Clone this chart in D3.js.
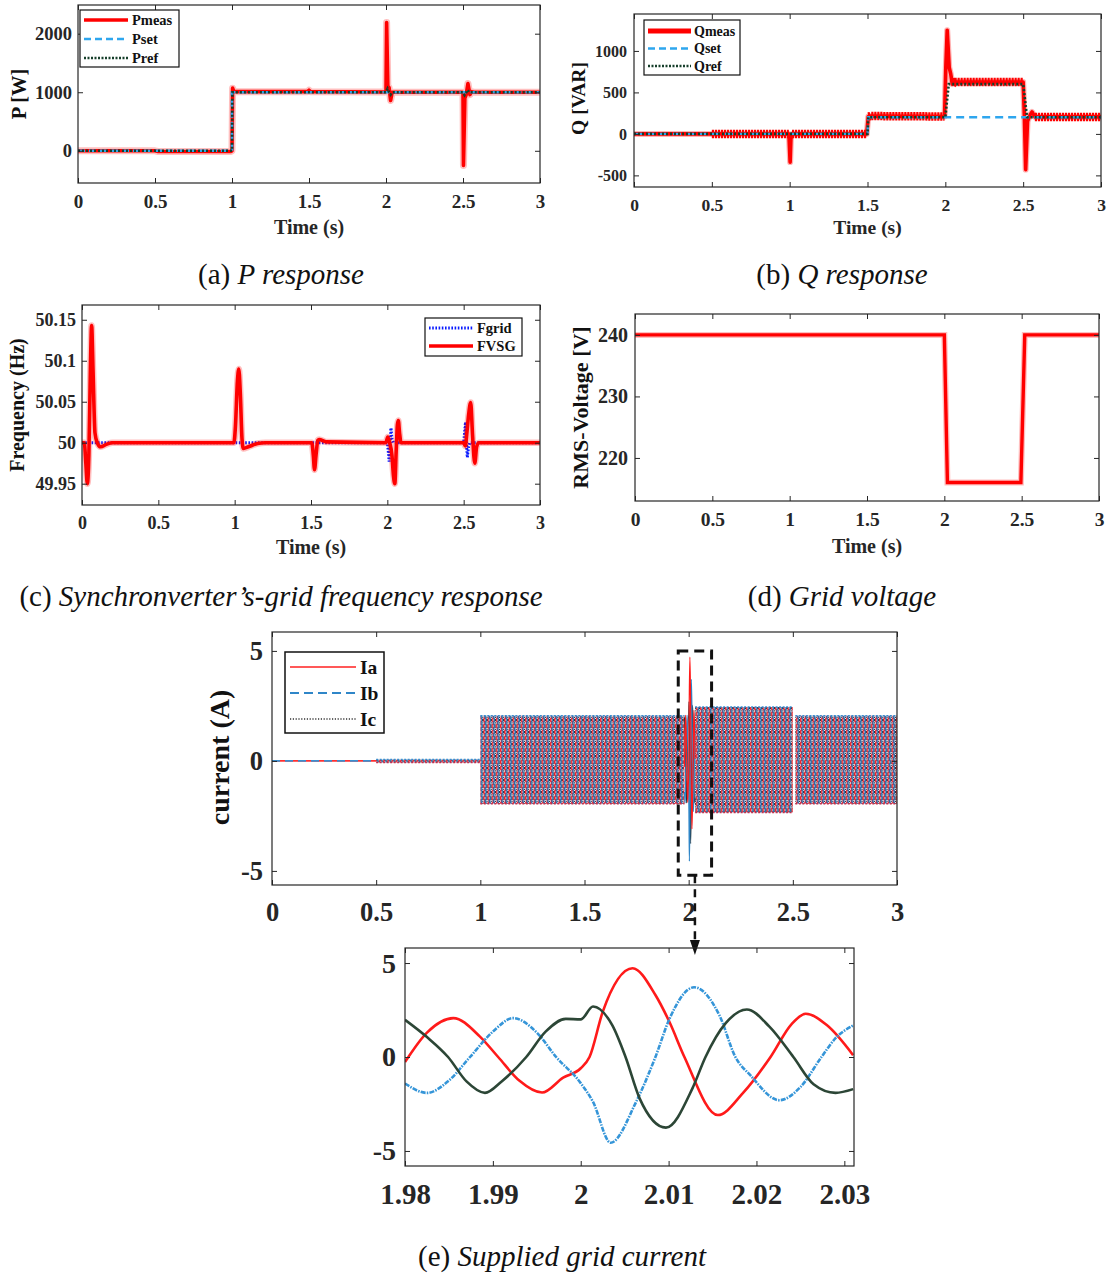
<!DOCTYPE html>
<html>
<head>
<meta charset="utf-8">
<script src="https://cdn.jsdelivr.net/npm/d3@7"></script>
<style>
  html, body { margin: 0; padding: 0; background: #fff; }
  svg { display: block; }
  text { font-family: "Liberation Serif", "Times New Roman", serif; }
</style>
</head>
<body>
<svg id="fig" width="1112" height="1274"></svg>
<script>
// ---------------- shared ticks ----------------
const timeTicks = [0, 0.5, 1, 1.5, 2, 2.5, 3];
const timeTickLabels = ["0", "0.5", "1", "1.5", "2", "2.5", "3"];

// ---------------- (a) active power ----------------
const pTicks = [0, 1000, 2000];
const pTickLabels = ["0", "1000", "2000"];
const pmeasT = [0, 0.5, 0.52, 0.99, 1.0, 1.004, 1.012, 1.03, 1.49, 1.5, 1.51, 1.99, 2.0, 2.004, 2.012, 2.02, 2.03, 2.04, 2.06, 2.495, 2.5, 2.503, 2.512, 2.52, 2.532, 2.545, 2.555, 2.57, 3.0];
const pmeasV = [0, 0, -12, -12, 0, 1070, 1010, 1010, 1010, 1035, 1010, 1005, 1010, 2190, 1100, 1080, 860, 1000, 1000, 1000, 990, -250, 900, 950, 1150, 960, 1010, 1000, 1000];
const psetT = [0, 1.0, 1.0, 3.0];
const psetV = [0, 0, 1000, 1000];
const prefT = [0, 1.0, 1.003, 2.0, 2.01, 2.02, 2.03, 2.04, 2.5, 2.51, 2.53, 2.54, 3.0];
const prefV = [0, 0, 1000, 1000, 1060, 1000, 960, 1000, 1000, 950, 1040, 1000, 1000];

// ---------------- (b) reactive power ----------------
const qTicks = [-500, 0, 500, 1000];
const qTickLabels = ["-500", "0", "500", "1000"];
const qmeasT = [0, 0.5, 0.995, 1.003, 1.008, 1.015, 1.495, 1.505, 1.52, 1.995, 2.003, 2.012, 2.025, 2.035, 2.045, 2.06, 2.5, 2.508, 2.516, 2.528, 2.545, 2.557, 2.575, 3.0];
const qmeasV = [0, 0, 0, -340, -60, 0, 0, 210, 215, 210, 800, 1250, 800, 720, 600, 625, 625, 200, -430, 150, 230, 265, 205, 205];
// intervals where the measured Q carries switching ripple
const rippleStart = [0.5, 1.015, 1.505, 2.045, 2.575];
const rippleEnd = [0.995, 1.495, 1.995, 2.5, 3.0];
const qsetT = [0, 1.5, 1.505, 3.0];
const qsetV = [0, 0, 200, 200];
const qrefT = [0, 1.5, 1.505, 2.0, 2.022, 2.5, 2.525, 3.0];
const qrefV = [0, 0, 200, 200, 600, 600, 200, 200];

// ---------------- (c) frequency ----------------
const fTicks = [49.95, 50, 50.05, 50.1, 50.15];
const fTickLabels = ["49.95", "50", "50.05", "50.1", "50.15"];
const fvsgT = [0, 0.015, 0.025, 0.035, 0.045, 0.055, 0.063, 0.072, 0.085, 0.1, 0.122, 0.16, 0.2, 0.995, 1.005, 1.018, 1.027, 1.037, 1.048, 1.057, 1.09, 1.15, 1.2, 1.505, 1.515, 1.523, 1.533, 1.545, 1.553, 1.6, 1.99, 2.003, 2.015, 2.03, 2.04, 2.049, 2.058, 2.066, 2.072, 2.08, 2.09, 2.1, 2.5, 2.511, 2.52, 2.533, 2.546, 2.558, 2.573, 2.585, 2.6, 3.0];
const fvsgV = [50, 50, 49.975, 49.95, 49.985, 50.09, 50.143, 50.09, 50.012, 50.0, 49.995, 49.998, 50, 50, 50.02, 50.075, 50.09, 50.06, 50.005, 49.993, 49.995, 49.999, 50, 50, 49.985, 49.967, 49.985, 50.003, 50.004, 50.001, 50, 50.007, 50.0, 49.985, 49.96, 49.95, 49.99, 50.022, 50.027, 50.012, 50.0, 50, 50, 49.996, 50.01, 50.035, 50.049, 50.01, 49.975, 49.995, 50, 50];
const fgridT = [0, 2.0, 2.006, 2.012, 2.018, 2.024, 2.03, 2.04, 2.5, 2.506, 2.512, 2.518, 2.524, 2.532, 2.54, 3.0];
const fgridV = [50, 50, 49.99, 49.977, 50.0, 50.018, 50.005, 50, 50, 50.012, 50.025, 50.0, 49.982, 49.995, 50, 50];

// ---------------- (d) grid voltage ----------------
const vTicks = [220, 230, 240];
const vTickLabels = ["220", "230", "240"];
const vgridT = [0, 2.0, 2.02, 2.495, 2.52, 3.0];
const vgridV = [240, 240, 216, 216, 240, 240];

// ---------------- (e) grid current ----------------
const iTicks = [-5, 0, 5];
const iTickLabels = ["-5", "0", "5"];
// envelope of the three-phase current band (steady-state segments)
const bandStart = [0.5, 1.0, 2.031, 2.512];
const bandEnd = [1.0, 1.98, 2.5, 3.0];
const bandHigh = [0.07, 2.05, 2.45, 2.05];
const bandLow = [-0.07, -1.95, -2.35, -1.95];
// detailed phase currents around the 2 s voltage sag
const zoomTicks = [1.98, 1.99, 2.0, 2.01, 2.02, 2.03];
const zoomTickLabels = ["1.98", "1.99", "2", "2.01", "2.02", "2.03"];
const iaT = [1.98, 1.9825, 1.9855, 1.9885, 1.9906, 1.993, 1.9956, 1.998, 2.0, 2.001, 2.0025, 2.0059, 2.0085, 2.0101, 2.0118, 2.0156, 2.0185, 2.0216, 2.024, 2.0256, 2.028, 2.031];
const iaV = [-0.27, 1.3, 2.07, 1.1, 0, -1.25, -1.89, -1.1, -0.6, 0.0, 2.4, 4.72, 3.3, 1.86, 0, -3.09, -1.9, 0, 1.75, 2.3, 1.7, 0.1];
const ibT = [1.98, 1.9825, 1.985, 1.9874, 1.99, 1.9923, 1.995, 1.9972, 1.9999, 2.0014, 2.0034, 2.0063, 2.0085, 2.0101, 2.0129, 2.0158, 2.0176, 2.0193, 2.0226, 2.025, 2.0274, 2.029, 2.031];
const ibV = [-1.41, -1.91, -1.25, 0, 1.35, 2.07, 1.3, 0, -1.33, -2.39, -4.56, -2.39, 0, 2.03, 3.71, 2.2, 0, -0.97, -2.3, -1.6, 0, 1.0, 1.68];
const icT = [1.98, 1.9825, 1.9849, 1.987, 1.9891, 1.991, 1.9938, 1.996, 1.9983, 2.0, 2.0014, 2.0036, 2.0051, 2.0067, 2.0097, 2.0127, 2.0142, 2.0165, 2.0189, 2.0215, 2.0242, 2.0265, 2.029, 2.031];
const icV = [1.98, 1.06, 0, -1.3, -1.91, -1.3, 0, 1.35, 2.03, 2.0, 2.69, 1.68, 0, -2.2, -3.76, -1.68, 0, 1.8, 2.53, 1.6, 0, -1.45, -1.91, -1.71];

// ---------------- drawing helpers ----------------
const svg = d3.select("#fig");
const defs = svg.append("defs");
const INK = "#262626";
const RED = "#ff0000";
const LIGHTBLUE = "#2ea6ee";
const DARKGREEN = "#163f2a";

const pairs = (T, V) => T.map((t, i) => [t, V[i]]);
let clipId = 0;

function panel(cfg) {
  const x = d3.scaleLinear().domain(cfg.xDomain).range([cfg.left, cfg.right]);
  const y = d3.scaleLinear().domain(cfg.yDomain).range([cfg.bottom, cfg.top]);
  const g = svg.append("g");
  const id = "clip" + (clipId++);
  defs.append("clipPath").attr("id", id).append("rect")
    .attr("x", cfg.left).attr("y", cfg.top)
    .attr("width", cfg.right - cfg.left).attr("height", cfg.bottom - cfg.top);
  const plot = g.append("g").attr("clip-path", `url(#${id})`);

  const axisStyle = size => sel => {
    sel.attr("font-family", "Liberation Serif, serif")
      .attr("font-weight", "bold")
      .attr("font-size", size)
      .attr("color", INK);
    sel.select(".domain").remove();
    sel.selectAll("line").attr("stroke-width", 1);
  };
  g.append("g").attr("transform", `translate(0,${cfg.bottom})`)
    .call(d3.axisBottom(x).tickValues(cfg.xTicks).tickFormat((d, i) => cfg.xLabels[i])
      .tickSize(-5).tickPadding(cfg.xPad)).call(axisStyle(cfg.xTickSize));
  g.append("g").attr("transform", `translate(0,${cfg.top})`)
    .call(d3.axisTop(x).tickValues(cfg.xTicks).tickFormat("").tickSize(-5)).call(axisStyle(cfg.xTickSize));
  g.append("g").attr("transform", `translate(${cfg.left},0)`)
    .call(d3.axisLeft(y).tickValues(cfg.yTicks).tickFormat((d, i) => cfg.yLabels[i])
      .tickSize(-5).tickPadding(cfg.yPad)).call(axisStyle(cfg.yTickSize));
  g.append("g").attr("transform", `translate(${cfg.right},0)`)
    .call(d3.axisRight(y).tickValues(cfg.yTicks).tickFormat("").tickSize(-5)).call(axisStyle(cfg.yTickSize));

  g.append("rect")
    .attr("x", cfg.left).attr("y", cfg.top)
    .attr("width", cfg.right - cfg.left).attr("height", cfg.bottom - cfg.top)
    .attr("fill", "none").attr("stroke", INK).attr("stroke-width", 1.2);

  if (cfg.xTitle) {
    g.append("text").attr("x", (cfg.left + cfg.right) / 2).attr("y", cfg.xTitleY)
      .attr("text-anchor", "middle").attr("font-weight", "bold")
      .attr("font-size", cfg.xTitleSize).attr("fill", INK).text(cfg.xTitle);
  }
  if (cfg.yTitle) {
    const cy = (cfg.top + cfg.bottom) / 2 + (cfg.yTitleShift || 0);
    g.append("text").attr("transform", `translate(${cfg.yTitleX},${cy}) rotate(-90)`)
      .attr("text-anchor", "middle").attr("font-weight", "bold")
      .attr("font-size", cfg.yTitleSize).attr("fill", "#111").text(cfg.yTitle);
  }
  return { x, y, g, plot };
}

function drawLine(p, data, style, curve) {
  const line = d3.line().x(d => p.x(d[0])).y(d => p.y(d[1])).curve(curve || d3.curveLinear);
  const path = p.plot.append("path").datum(data).attr("d", line).attr("fill", "none");
  Object.entries(style).forEach(([k, v]) => path.attr(k, v));
  return path;
}

function legend(cfg) {
  const g = svg.append("g");
  g.append("rect").attr("x", cfg.x).attr("y", cfg.y).attr("width", cfg.w).attr("height", cfg.h)
    .attr("fill", "#fff").attr("stroke", "#111").attr("stroke-width", cfg.border || 1.2);
  cfg.items.forEach((it, i) => {
    const yy = cfg.y + cfg.first + i * cfg.step;
    const ln = g.append("line").attr("x1", cfg.x + cfg.lx0).attr("x2", cfg.x + cfg.lx1)
      .attr("y1", yy).attr("y2", yy);
    Object.entries(it.style).forEach(([k, v]) => ln.attr(k, v));
    g.append("text").attr("x", cfg.x + cfg.tx).attr("y", yy).attr("dy", "0.35em")
      .attr("font-weight", "bold").attr("font-size", cfg.fontSize).attr("fill", "#111").text(it.label);
  });
}

// ---------------- (a) P response ----------------
const pa = panel({
  left: 78, top: 5, right: 540, bottom: 183,
  xDomain: [0, 3], yDomain: [-550, 2490],
  xTicks: timeTicks, xLabels: timeTickLabels, yTicks: pTicks, yLabels: pTickLabels,
  xTickSize: 19, yTickSize: 18.5, xPad: 12, yPad: 6,
  xTitle: "Time (s)", xTitleY: 234, xTitleSize: 20,
  yTitle: "P [W]", yTitleX: 26, yTitleSize: 20.5, yTitleShift: 0
});
drawLine(pa, pairs(pmeasT, pmeasV), { stroke: RED, "stroke-width": 7, "stroke-opacity": 0.25, "stroke-linejoin": "round" });
drawLine(pa, pairs(pmeasT, pmeasV), { stroke: RED, "stroke-width": 3.6, "stroke-linejoin": "round" });
drawLine(pa, pairs(psetT, psetV), { stroke: LIGHTBLUE, "stroke-width": 2.6, "stroke-dasharray": "7,4" });
drawLine(pa, pairs(prefT, prefV), { stroke: DARKGREEN, "stroke-width": 2.6, "stroke-dasharray": "2,2" });
legend({
  x: 80, y: 10, w: 99, h: 57, first: 10, step: 19, lx0: 4, lx1: 48, tx: 52, fontSize: 14.5,
  items: [
    { label: "Pmeas", style: { stroke: RED, "stroke-width": 3.6 } },
    { label: "Pset", style: { stroke: LIGHTBLUE, "stroke-width": 2.6, "stroke-dasharray": "7,4" } },
    { label: "Pref", style: { stroke: DARKGREEN, "stroke-width": 2.6, "stroke-dasharray": "2,1.5" } }
  ]
});

// ---------------- (b) Q response ----------------
const pb = panel({
  left: 634, top: 14, right: 1101, bottom: 187,
  xDomain: [0, 3], yDomain: [-640, 1445],
  xTicks: timeTicks, xLabels: timeTickLabels, yTicks: qTicks, yLabels: qTickLabels,
  xTickSize: 17.5, yTickSize: 16, xPad: 12, yPad: 7,
  xTitle: "Time (s)", xTitleY: 234, xTitleSize: 19.5,
  yTitle: "Q [VAR]", yTitleX: 585, yTitleSize: 19.5, yTitleShift: -2
});
// ripple band of the measured reactive power on the steady intervals
const qPoints = pairs(qmeasT, qmeasV);
rippleStart.forEach((t0, i) => {
  const seg = qPoints.filter(d => d[0] >= t0 && d[0] <= rippleEnd[i]);
  drawLine(pb, seg, { stroke: RED, "stroke-width": 8.5, "stroke-dasharray": "2.2,0.8", "stroke-linejoin": "round" });
});
drawLine(pb, qPoints, { stroke: RED, "stroke-width": 6, "stroke-opacity": 0.3, "stroke-linejoin": "round" });
drawLine(pb, qPoints, { stroke: RED, "stroke-width": 3.6, "stroke-linejoin": "round" });
drawLine(pb, pairs(qsetT, qsetV), { stroke: LIGHTBLUE, "stroke-width": 2.4, "stroke-dasharray": "8,5" });
drawLine(pb, pairs(qrefT, qrefV), { stroke: DARKGREEN, "stroke-width": 2.6, "stroke-dasharray": "2,2" });
legend({
  x: 644, y: 20, w: 96, h: 55, first: 11, step: 17.5, lx0: 4, lx1: 47, tx: 50, fontSize: 14,
  items: [
    { label: "Qmeas", style: { stroke: RED, "stroke-width": 5 } },
    { label: "Qset", style: { stroke: LIGHTBLUE, "stroke-width": 2.4, "stroke-dasharray": "7,4" } },
    { label: "Qref", style: { stroke: DARKGREEN, "stroke-width": 2.6, "stroke-dasharray": "2,1.5" } }
  ]
});

// ---------------- (c) frequency ----------------
const pc = panel({
  left: 82, top: 305, right: 540, bottom: 505,
  xDomain: [0, 3], yDomain: [49.924, 50.168],
  xTicks: timeTicks, xLabels: timeTickLabels, yTicks: fTicks, yLabels: fTickLabels,
  xTickSize: 18, yTickSize: 18, xPad: 11, yPad: 6,
  xTitle: "Time (s)", xTitleY: 554, xTitleSize: 20,
  yTitle: "Frequency (Hz)", yTitleX: 24, yTitleSize: 20, yTitleShift: 0
});
drawLine(pc, pairs(fgridT, fgridV), { stroke: "#0a1cff", "stroke-width": 3, "stroke-dasharray": "1.6,1.6" });
drawLine(pc, pairs(fvsgT, fvsgV), { stroke: RED, "stroke-width": 6.5, "stroke-opacity": 0.25, "stroke-linejoin": "round" }, d3.curveMonotoneX);
drawLine(pc, pairs(fvsgT, fvsgV), { stroke: RED, "stroke-width": 3.6, "stroke-linejoin": "round" }, d3.curveMonotoneX);
legend({
  x: 425, y: 318, w: 97, h: 38, first: 10, step: 18, lx0: 4, lx1: 48, tx: 52, fontSize: 14.5,
  items: [
    { label: "Fgrid", style: { stroke: "#0a1cff", "stroke-width": 3, "stroke-dasharray": "1.6,1.6" } },
    { label: "FVSG", style: { stroke: RED, "stroke-width": 3.6 } }
  ]
});

// ---------------- (d) grid voltage ----------------
const pd = panel({
  left: 635, top: 314, right: 1099, bottom: 501,
  xDomain: [0, 3], yDomain: [213, 243.4],
  xTicks: timeTicks, xLabels: timeTickLabels, yTicks: vTicks, yLabels: vTickLabels,
  xTickSize: 19.5, yTickSize: 20, xPad: 11, yPad: 7,
  xTitle: "Time (s)", xTitleY: 553, xTitleSize: 20,
  yTitle: "RMS-Voltage [V]", yTitleX: 588, yTitleSize: 22, yTitleShift: 0
});
drawLine(pd, pairs(vgridT, vgridV), { stroke: RED, "stroke-width": 6, "stroke-opacity": 0.25 });
drawLine(pd, pairs(vgridT, vgridV), { stroke: RED, "stroke-width": 3.4 });

// ---------------- (e) supplied grid current ----------------
const pe = panel({
  left: 272, top: 632, right: 897, bottom: 885,
  xDomain: [0, 3], yDomain: [-5.64, 5.86],
  xTicks: timeTicks, xLabels: timeTickLabels, yTicks: iTicks, yLabels: iTickLabels,
  xTickSize: 26.5, yTickSize: 26.5, xPad: 17, yPad: 9,
  xTitle: null, yTitle: "current (A)", yTitleX: 229, yTitleSize: 28, yTitleShift: -1
});

// texture of the dense 50 Hz three-phase oscillation (one cycle per tile)
const cyc = pe.x(0.02) - pe.x(0);
const pat = defs.append("pattern").attr("id", "threephase")
  .attr("patternUnits", "userSpaceOnUse").attr("width", cyc).attr("height", 12);
pat.append("rect").attr("width", cyc).attr("height", 12).attr("fill", "#fff");
pat.append("polyline").attr("points", `0.3,0 1.6,3 0.3,6 1.6,9 0.3,12`)
  .attr("fill", "none").attr("stroke", "#ee1a22").attr("stroke-width", 1.5);
pat.append("polyline").attr("points", `3.0,0 1.9,3 3.0,6 1.9,9 3.0,12`)
  .attr("fill", "none").attr("stroke", "#2a6aac").attr("stroke-width", 1.6);
pat.append("line").attr("x1", 3.7).attr("x2", 3.7).attr("y1", 0).attr("y2", 12)
  .attr("stroke", "#1c2c3c").attr("stroke-width", 0.9).attr("stroke-dasharray", "1.2,1");

// idle period: currents at zero
drawLine(pe, [[0, 0], [1.0, 0]], { stroke: "#ff3030", "stroke-width": 1.6 });
drawLine(pe, [[0, 0], [1.0, 0]], { stroke: "#3a8fd0", "stroke-width": 1.6, "stroke-dasharray": "8,5" });
drawLine(pe, [[0.5, 0], [1.0, 0]], { stroke: "#2a3a40", "stroke-width": 1.4, "stroke-dasharray": "1,1" });

const bandArea = d3.area().x(d => pe.x(d[0])).y0(d => pe.y(d[2])).y1(d => pe.y(d[1]));
bandStart.forEach((t0, i) => {
  const seg = [[t0, bandHigh[i], bandLow[i]], [bandEnd[i], bandHigh[i], bandLow[i]]];
  pe.plot.append("path").datum(seg).attr("d", bandArea).attr("fill", "url(#threephase)");
  // crest outline of the band
  pe.plot.append("path").datum(seg).attr("d", d3.line().x(d => pe.x(d[0])).y(d => pe.y(d[1])))
    .attr("stroke", "#3a8fd0").attr("stroke-width", 1.4).attr("stroke-dasharray", "2,1.5").attr("fill", "none");
  pe.plot.append("path").datum(seg).attr("d", d3.line().x(d => pe.x(d[0])).y(d => pe.y(d[2])))
    .attr("stroke", "#c03050").attr("stroke-width", 1.4).attr("stroke-dasharray", "2,1.5").attr("fill", "none");
});
// transient around 2 s drawn from the detailed phase currents
drawLine(pe, pairs(icT, icV), { stroke: "#22333a", "stroke-width": 1.1 }, d3.curveMonotoneX);
drawLine(pe, pairs(ibT, ibV), { stroke: "#2f86c8", "stroke-width": 1.2 }, d3.curveMonotoneX);
drawLine(pe, pairs(iaT, iaV), { stroke: "#ff1a1a", "stroke-width": 1.2 }, d3.curveMonotoneX);

legend({
  x: 285, y: 652, w: 99, h: 81, first: 15, step: 26, lx0: 5, lx1: 71, tx: 75, fontSize: 19.5, border: 1.5,
  items: [
    { label: "Ia", style: { stroke: "#ff2020", "stroke-width": 1.6 } },
    { label: "Ib", style: { stroke: "#2f86c8", "stroke-width": 1.8, "stroke-dasharray": "9,5" } },
    { label: "Ic", style: { stroke: "#333", "stroke-width": 1.4, "stroke-dasharray": "1.2,1.6" } }
  ]
});

// highlighted window and connector to the detail plot
const boxT0 = 1.95, boxT1 = 2.11, boxI0 = -5.2, boxI1 = 5.0;
svg.append("rect")
  .attr("x", pe.x(boxT0)).attr("y", pe.y(boxI1))
  .attr("width", pe.x(boxT1) - pe.x(boxT0)).attr("height", pe.y(boxI0) - pe.y(boxI1))
  .attr("fill", "none").attr("stroke", "#111").attr("stroke-width", 3).attr("stroke-dasharray", "10,6");
const connX = (pe.x(boxT0) + pe.x(boxT1)) / 2;
svg.append("line").attr("x1", connX).attr("x2", connX).attr("y1", pe.y(boxI0)).attr("y2", 940)
  .attr("stroke", "#111").attr("stroke-width", 2.5).attr("stroke-dasharray", "8,6");
svg.append("path").attr("d", `M${connX - 5},940 L${connX + 5},940 L${connX},955 Z`).attr("fill", "#111");

// detail plot 1.98 - 2.031 s
const pz = panel({
  left: 405, top: 948, right: 854, bottom: 1166,
  xDomain: [1.98, 2.0311], yDomain: [-5.8, 5.8],
  xTicks: zoomTicks, xLabels: zoomTickLabels, yTicks: iTicks, yLabels: iTickLabels,
  xTickSize: 29, yTickSize: 28, xPad: 17, yPad: 9,
  xTitle: null, yTitle: null
});
drawLine(pz, pairs(iaT, iaV), { stroke: "#ff1a1a", "stroke-width": 2.6 }, d3.curveMonotoneX);
drawLine(pz, pairs(ibT, ibV), { stroke: "#3595d8", "stroke-width": 2.6, "stroke-dasharray": "5,1.2,1.5,1.2" }, d3.curveMonotoneX);
drawLine(pz, pairs(icT, icV), { stroke: "#2c4636", "stroke-width": 2.6 }, d3.curveMonotoneX);

// ---------------- captions ----------------
const captionLead = ["(a) ", "(b) ", "(c) ", "(d) ", "(e) "];
const captionText = ["P response", "Q response", "Synchronverter\u2019s-grid frequency response", "Grid voltage", "Supplied grid current"];
const captionPos = [[281, 284], [842, 284], [281, 606], [842, 606], [562, 1266]];
captionLead.forEach((lead, i) => {
  const t = svg.append("text").attr("x", captionPos[i][0]).attr("y", captionPos[i][1])
    .attr("text-anchor", "middle").attr("font-size", 29).attr("fill", "#111");
  t.append("tspan").text(lead);
  t.append("tspan").attr("font-style", "italic").text(captionText[i]);
});
</script>
</body>
</html>
